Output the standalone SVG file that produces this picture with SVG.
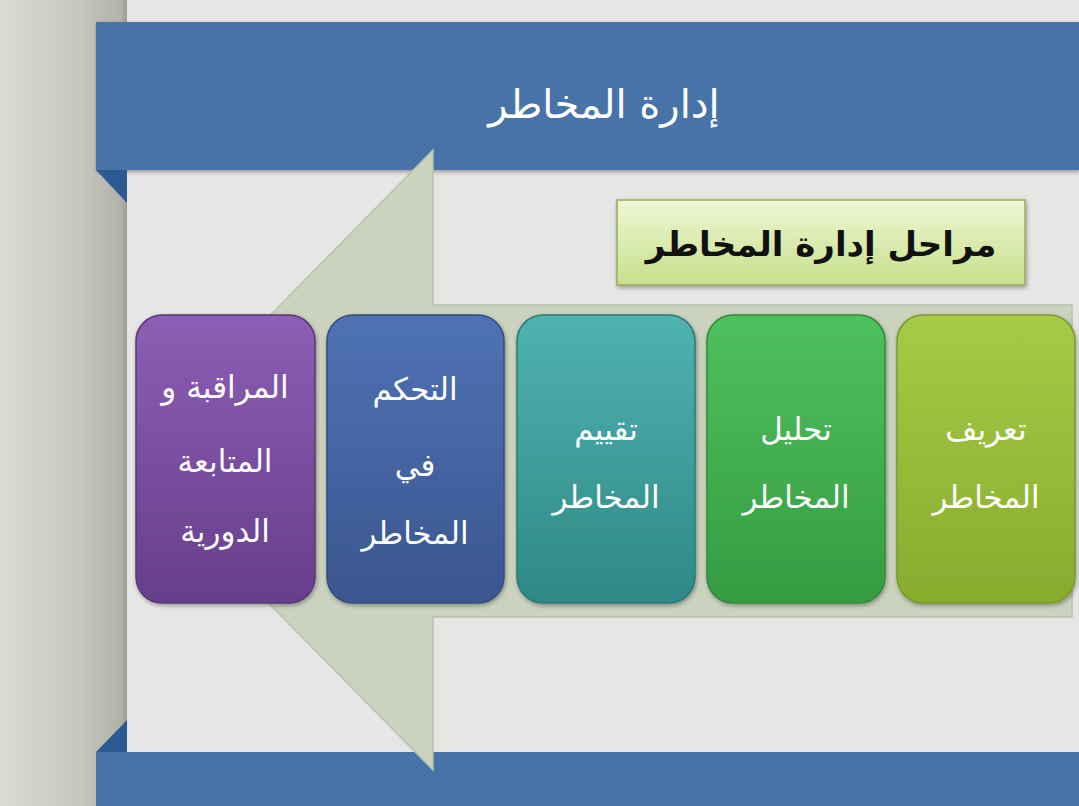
<svg xmlns="http://www.w3.org/2000/svg" width="1079" height="806" viewBox="0 0 1079 806">
<defs>
<linearGradient id="page" x1="0" y1="0" x2="1" y2="0">
<stop offset="0" stop-color="#dcdbd1"/>
<stop offset="0.6" stop-color="#c9c8bf"/>
<stop offset="0.95" stop-color="#b3b2a9"/>
<stop offset="1" stop-color="#9e9d96"/>
</linearGradient>
<linearGradient id="gTitle" x1="0" y1="0" x2="0" y2="1">
<stop offset="0" stop-color="#eef7d4"/>
<stop offset="1" stop-color="#c6df8a"/>
</linearGradient>
<linearGradient id="gPurple" x1="0" y1="0" x2="0" y2="1">
<stop offset="0" stop-color="#8d5eb5"/>
<stop offset="1" stop-color="#663e8a"/>
</linearGradient>
<linearGradient id="gBlue" x1="0" y1="0" x2="0" y2="1">
<stop offset="0" stop-color="#5072b5"/>
<stop offset="1" stop-color="#3a568f"/>
</linearGradient>
<linearGradient id="gTeal" x1="0" y1="0" x2="0" y2="1">
<stop offset="0" stop-color="#4fb3af"/>
<stop offset="1" stop-color="#2f8886"/>
</linearGradient>
<linearGradient id="gGreen" x1="0" y1="0" x2="0" y2="1">
<stop offset="0" stop-color="#4fc05e"/>
<stop offset="1" stop-color="#359c42"/>
</linearGradient>
<linearGradient id="gLime" x1="0" y1="0" x2="0" y2="1">
<stop offset="0" stop-color="#a6cb45"/>
<stop offset="1" stop-color="#88ab2e"/>
</linearGradient>
<filter id="sh" x="-10%" y="-10%" width="120%" height="120%">
<feDropShadow dx="1" dy="2" stdDeviation="2" flood-color="#000" flood-opacity="0.35"/>
</filter>
</defs>
<style>
.bar{fill:#4673a8}
.fold{fill:#2c5b93}
.step{stroke-width:1.5}
.lbl{font-family:"DejaVu Sans",sans-serif;fill:#ffffff;font-size:31px;text-anchor:middle;direction:rtl}
</style>
<rect x="0" y="0" width="1079" height="806" fill="#e6e6e5"/>
<rect x="0" y="0" width="127" height="806" fill="url(#page)"/>
<g id="header">
<rect class="bar" x="96" y="22" width="983" height="148" filter="url(#sh)"/>
<polygon class="fold" points="96,170 127,170 127,203"/>
<text x="604" y="118" font-family="DejaVu Sans, sans-serif" font-size="40" fill="#ffffff" text-anchor="middle" direction="rtl">إدارة المخاطر</text>
</g>
<g id="footer">
<rect class="bar" x="96" y="752" width="983" height="54"/>
<polygon class="fold" points="96,752 127,720 127,752"/>
</g>
<g id="arrow">
<polygon points="433,150 433,305 1072,305 1072,617 433,617 433,770 145,478 145,442" fill="#cbd3bf" stroke="#b9c0ad" stroke-width="1.5"/>
</g>
<g id="stages-title">
<rect x="617" y="200" width="408" height="85" fill="url(#gTitle)" stroke="#9ba862" stroke-width="1.5" filter="url(#sh)"/>
<text x="821" y="256" font-family="DejaVu Sans, sans-serif" font-size="34" font-weight="bold" fill="#111111" text-anchor="middle" direction="rtl">مراحل إدارة المخاطر</text>
</g>
<g id="step1">
<rect class="step" x="897" y="315" width="178" height="288" rx="26" fill="url(#gLime)" stroke="#7a9a2a" filter="url(#sh)"/>
<text class="lbl" x="986" y="440">تعريف</text>
<text class="lbl" x="986" y="508">المخاطر</text>
</g>
<g id="step2">
<rect class="step" x="707" y="315" width="178" height="288" rx="26" fill="url(#gGreen)" stroke="#2f8a3a" filter="url(#sh)"/>
<text class="lbl" x="796" y="440">تحليل</text>
<text class="lbl" x="796" y="508">المخاطر</text>
</g>
<g id="step3">
<rect class="step" x="517" y="315" width="178" height="288" rx="26" fill="url(#gTeal)" stroke="#2a7a78" filter="url(#sh)"/>
<text class="lbl" x="606" y="440">تقييم</text>
<text class="lbl" x="606" y="508">المخاطر</text>
</g>
<g id="step4">
<rect class="step" x="327" y="315" width="177" height="288" rx="26" fill="url(#gBlue)" stroke="#334d80" filter="url(#sh)"/>
<text class="lbl" x="415" y="400">التحكم</text>
<text class="lbl" x="415" y="476">في</text>
<text class="lbl" x="415" y="544">المخاطر</text>
</g>
<g id="step5">
<rect class="step" x="136" y="315" width="179" height="288" rx="26" fill="url(#gPurple)" stroke="#5a367a" filter="url(#sh)"/>
<text class="lbl" x="225" y="398">المراقبة و</text>
<text class="lbl" x="225" y="472">المتابعة</text>
<text class="lbl" x="225" y="542">الدورية</text>
</g>
</svg>
